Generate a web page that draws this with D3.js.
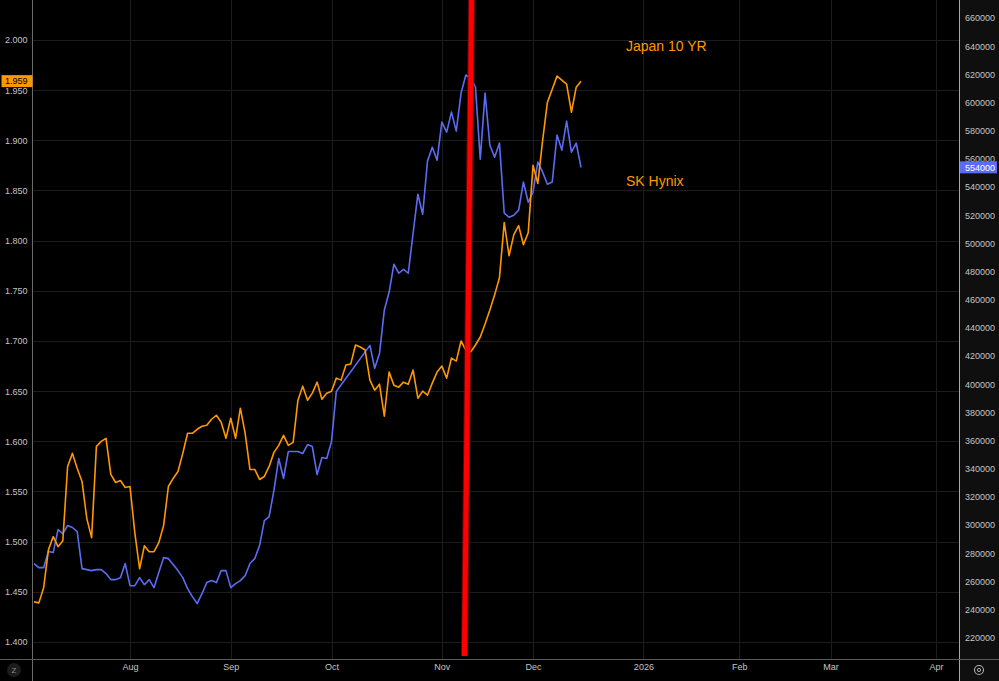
<!DOCTYPE html>
<html><head><meta charset="utf-8">
<script src="https://cdn.jsdelivr.net/npm/d3@7"></script>
<style>html,body{margin:0;padding:0;background:#000;}svg{display:block;}</style>
</head><body>
<script>
// ---- data ----
const japan10y = [1.440,1.439,1.454,1.492,1.505,1.495,1.501,1.575,1.588,1.573,1.560,1.523,1.504,1.595,1.600,1.603,1.567,1.559,1.561,1.554,
1.555,1.509,1.473,1.496,1.490,1.490,1.499,1.516,1.555,1.563,1.570,1.588,1.608,1.608,1.612,1.615,1.616,1.622,1.626,1.619,
1.603,1.623,1.603,1.633,1.608,1.572,1.572,1.562,1.565,1.575,1.589,1.596,1.606,1.596,1.599,1.641,1.655,1.641,1.648,1.659,
1.642,1.648,1.650,1.663,1.661,1.676,1.677,1.696,1.694,1.691,1.661,1.651,1.657,1.625,1.669,1.656,1.654,1.659,1.657,1.671,
1.643,1.650,1.646,1.658,1.669,1.675,1.663,1.683,1.680,1.700,1.691,1.689,1.696,1.704,1.717,1.731,1.746,1.763,1.818,1.785,1.806,
1.815,1.796,1.808,1.875,1.857,1.900,1.938,1.951,1.964,1.960,1.956,1.928,1.953,1.959];
const skHynix = [272700,269800,269800,281200,280500,296800,294000,299700,298300,295400,269100,268400,267700,268400,268400,265600,261300,261300,262700,272700,
257000,257000,262700,257700,261300,255600,266300,276900,276200,272000,267700,262700,254900,249200,244300,251300,259200,260600,259200,267700,
267700,255600,258500,260600,264100,272700,276200,285500,303200,306100,324600,347300,333100,352300,352300,352300,350800,357200,355800,335900,
348000,347300,359400,394900,null,null,null,null,null,null,427600,411300,421900,452500,465300,485200,478800,481600,478800,507200,
534900,520700,558400,568300,559100,586100,579000,593200,579700,606700,619500,617400,611000,559800,606700,569700,561200,571200,521400,518600,
520000,523600,543500,529200,536300,557700,550600,542000,543500,576900,566200,586800,564800,571200,554000];
const seriesNames = ["Japan 10 YR", "SK Hynix"];
const leftTicks = [1.400,1.450,1.500,1.550,1.600,1.650,1.700,1.750,1.800,1.850,1.900,1.950,2.000];
const rightTicks = [220000,240000,260000,280000,300000,320000,340000,360000,380000,400000,420000,440000,460000,480000,500000,520000,540000,560000,580000,600000,620000,640000,660000];
// month labels with their bar index (trading-day count from the first bar)
const monthLabels = ["Aug","Sep","Oct","Nov","Dec","2026","Feb","Mar","Apr"];
const monthBars = [20,41,62,85,104,127,147,166,188];
// hand-drawn red marker: [barIndex, leftAxisValue] at its two ends
const markerBars = [91.2, 89.7];
const markerVals = [2.045, 1.386];

// ---- layout ----
const W = 999, H = 681;
const plotL = 32.5, plotR = 959.5, plotB = 659.5;
const orange = "#ff9800", blue = "#5b6cf4", axisText = "#c4c4c4", grid = "#1c1c1c";
const FONT = "'Liberation Sans', Arial, sans-serif";

const svg = d3.select("body").append("svg").attr("width", W).attr("height", H)
  .style("font-family", FONT);
svg.append("rect").attr("width", W).attr("height", H).attr("fill", "#000");
svg.append("rect").attr("x", plotR).attr("y", 0).attr("width", W - plotR).attr("height", H).attr("fill", "#0f0f0f");

const x = d3.scaleLinear().domain([0, 120]).range([34.04, 34.04 + 120 * 4.798]);
const yL = d3.scaleLinear().domain([1.4, 2.0]).range([642, 40]);
const yR = d3.scaleLinear().domain([220000, 660000]).range([637.8, 18]);

// grid
const g = svg.append("g");
g.selectAll("line.h").data(leftTicks).join("line")
  .attr("x1", plotL).attr("x2", plotR).attr("y1", d => Math.round(yL(d)) + 0.5).attr("y2", d => Math.round(yL(d)) + 0.5)
  .attr("stroke", grid).attr("stroke-width", 1);
g.selectAll("line.v").data(monthBars).join("line")
  .attr("x1", d => Math.round(x(d)) + 0.5).attr("x2", d => Math.round(x(d)) + 0.5).attr("y1", 0).attr("y2", plotB)
  .attr("stroke", grid).attr("stroke-width", 1);

// clip
svg.append("clipPath").attr("id", "clip").append("rect")
  .attr("x", plotL + 0.5).attr("y", 0).attr("width", plotR - plotL - 1).attr("height", plotB);
const plot = svg.append("g").attr("clip-path", "url(#clip)");

const idx = d3.range(japan10y.length);
const lineL = d3.line().x(i => x(i)).y(i => yL(japan10y[i]));
const skIdx = d3.range(skHynix.length).filter(i => skHynix[i] != null);
const lineR = d3.line().x(i => x(i)).y(i => yR(skHynix[i]));

plot.append("path").attr("d", lineR(skIdx)).attr("fill", "none").attr("stroke", blue).attr("stroke-width", 1.6).attr("stroke-linejoin", "round");
plot.append("path").attr("d", lineL(idx)).attr("fill", "none").attr("stroke", orange).attr("stroke-width", 1.6).attr("stroke-linejoin", "round");

// red marker
plot.append("line")
  .attr("x1", x(markerBars[0])).attr("y1", yL(markerVals[0]))
  .attr("x2", x(markerBars[1])).attr("y2", yL(markerVals[1]))
  .attr("stroke", "#b00000").attr("stroke-width", 7).attr("opacity", 0.6);
plot.append("line")
  .attr("x1", x(markerBars[0])).attr("y1", yL(markerVals[0]))
  .attr("x2", x(markerBars[1])).attr("y2", yL(markerVals[1]))
  .attr("stroke", "#ff0000").attr("stroke-width", 5);

// series labels
svg.append("text").attr("x", 626).attr("y", 51).attr("fill", orange).attr("font-size", 14).text(seriesNames[0]);
svg.append("text").attr("x", 626).attr("y", 186).attr("fill", orange).attr("font-size", 14).text(seriesNames[1]);

// axes lines
svg.append("line").attr("x1", plotL).attr("x2", plotL).attr("y1", 0).attr("y2", H).attr("stroke", "#6a6a6a");
svg.append("line").attr("x1", plotR).attr("x2", plotR).attr("y1", 0).attr("y2", H).attr("stroke", "#a8a8a8");
svg.append("line").attr("x1", 0).attr("x2", W).attr("y1", plotB).attr("y2", plotB).attr("stroke", "#5a5a5a");

// left axis labels
const leftAxis = d3.axisLeft(yL).tickValues(leftTicks).tickFormat(d3.format(".3f")).tickSize(0).tickPadding(0);
const la = svg.append("g").attr("transform", `translate(27.5,0)`).call(leftAxis);
la.select(".domain").remove();
la.selectAll("text").attr("fill", axisText).attr("font-size", 9).attr("font-family", FONT);

// right axis labels
const rightAxis = d3.axisRight(yR).tickValues(rightTicks).tickFormat(d3.format("d")).tickSize(0).tickPadding(0);
const ra = svg.append("g").attr("transform", `translate(965,0)`).call(rightAxis);
ra.select(".domain").remove();
ra.selectAll("text").attr("fill", axisText).attr("font-size", 9).attr("font-family", FONT);

// bottom axis labels
const bottomAxis = d3.axisBottom(x).tickValues(monthBars).tickFormat((d, i) => monthLabels[i]).tickSize(0).tickPadding(0);
const ba = svg.append("g").attr("transform", `translate(0,664)`).call(bottomAxis);
ba.select(".domain").remove();
ba.selectAll("text").attr("fill", axisText).attr("font-size", 9).attr("font-family", FONT);

// last-value badges
const lastL = japan10y[japan10y.length - 1];
const lastR = skHynix[skHynix.length - 1];
svg.append("rect").attr("x", 1.5).attr("y", yL(lastL) - 6).attr("width", plotL - 1.5).attr("height", 12).attr("fill", orange);
svg.append("text").attr("x", 27.5).attr("y", yL(lastL) + 3.3).attr("text-anchor", "end").attr("font-size", 9).attr("fill", "#000").text(d3.format(".3f")(lastL));
svg.append("rect").attr("x", plotR + 0.5).attr("y", yR(lastR) - 6).attr("width", 37).attr("height", 12).attr("fill", blue);
svg.append("text").attr("x", 965).attr("y", yR(lastR) + 3.3).attr("font-size", 9).attr("fill", "#fff").text(d3.format("d")(lastR));

// corner icons
svg.append("circle").attr("cx", 14).attr("cy", 670).attr("r", 7).attr("fill", "#1c1c1c");
svg.append("text").attr("x", 14).attr("y", 673).attr("text-anchor", "middle").attr("font-size", 8).attr("fill", "#8a8a8a").text("Z");
svg.append("circle").attr("cx", 979).attr("cy", 670).attr("r", 4.5).attr("fill", "none").attr("stroke", "#b0b0b0").attr("stroke-width", 1.1);
svg.append("circle").attr("cx", 979).attr("cy", 670).attr("r", 1.6).attr("fill", "none").attr("stroke", "#b0b0b0").attr("stroke-width", 1);
</script>
</body></html>
